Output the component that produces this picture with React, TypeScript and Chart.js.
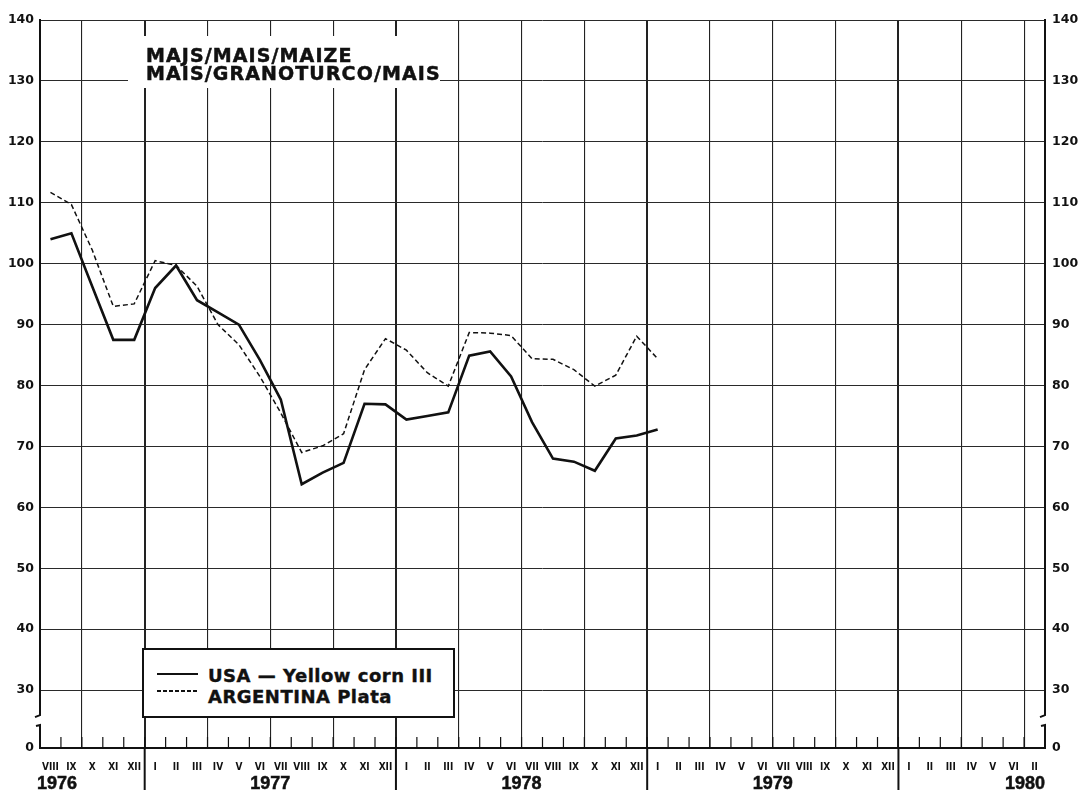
import React, { useEffect, useRef } from "react";
import { Chart, registerables } from "chart.js";

Chart.register(...registerables);

// ---- Data ----
const months1976 = ["VIII", "IX", "X", "XI", "XII"];
const monthsFullYear = ["I", "II", "III", "IV", "V", "VI", "VII", "VIII", "IX", "X", "XI", "XII"];
const months1980 = ["I", "II", "III", "IV", "V", "VI", "II"];
const years = ["1976", "1977", "1978", "1979", "1980"];
const yearMonthLabels = [months1976, monthsFullYear, monthsFullYear, monthsFullYear, months1980];
const monthLabels = yearMonthLabels.flat();

// USA — Yellow corn III (1976 VIII … 1979 I)
const usaYellowCorn = [
  104, 105, 96.2, 87.5, 87.5,
  96, 99.7, 94, 92, 90, 84.2, 77.7, 63.8, 65.7, 67.3, 77, 76.9,
  74.4, 75, 75.6, 84.9, 85.6, 81.5, 74, 68, 67.5, 66, 71.3, 71.8,
  72.8,
];
// ARGENTINA Plata
const argentinaPlata = [
  111.7, 109.7, 102.2, 93, 93.4,
  100.5, 99.7, 96.3, 90, 86.7, 81.5, 75.5, 69, 70.1, 72.1, 82.6, 87.7,
  85.8, 82.1, 79.9, 88.7, 88.6, 88.2, 84.4, 84.3, 82.6, 79.9, 81.7, 88.1,
  84.4,
];

const yTickValues = [30, 40, 50, 60, 70, 80, 90, 100, 110, 120, 130, 140];
const yZeroLabel = "0";
const yBrokenFloor = 20.5; // axis floor that stands for "0" below the break
const yMax = 140;

const titleLines = ["MAJS/MAIS/MAIZE", "MAIS/GRANOTURCO/MAIS"];
const seriesNames = ["USA \u2014 Yellow corn III", "ARGENTINA Plata"];

const INK = "#111";

const yearLengths = yearMonthLabels.map((m) => m.length);
const yearStarts: number[] = [];
yearLengths.reduce((acc, len) => {
  yearStarts.push(acc);
  return acc + len;
}, 0);

const decorPlugin = {
  id: "decor",
  afterDraw(chart: any) {
    const { ctx, chartArea } = chart;
    const x = chart.scales.x;
    const y = chart.scales.y;
    const n = x.ticks.length;
    const bound = (k: number) =>
      k <= 0 ? chartArea.left : k >= n ? chartArea.right : (x.getPixelForTick(k - 1) + x.getPixelForTick(k)) / 2;
    const y0 = chartArea.bottom;
    ctx.save();
    ctx.strokeStyle = INK;
    // monthly short ticks
    ctx.lineWidth = 1.2;
    for (let k = 1; k < n; k++) {
      const px = bound(k);
      ctx.beginPath();
      ctx.moveTo(px, y0);
      ctx.lineTo(px, y0 - 11);
      ctx.stroke();
    }
    // year separators below the axis
    ctx.lineWidth = 2;
    yearStarts.slice(1).forEach((k) => {
      const px = bound(k);
      ctx.beginPath();
      ctx.moveTo(px, y0);
      ctx.lineTo(px, y0 + 42);
      ctx.stroke();
    });
    // year labels
    ctx.font = "bold 18px 'Liberation Sans', Arial, sans-serif";
    ctx.fillStyle = INK;
    ctx.lineWidth = 0.5;
    ctx.textBaseline = "alphabetic";
    years.forEach((yr, i) => {
      const a = bound(yearStarts[i]);
      const b = bound(yearStarts[i] + yearLengths[i]);
      let tx: number;
      if (i === 0) {
        ctx.textAlign = "left";
        tx = a - 3;
      } else if (i === years.length - 1) {
        ctx.textAlign = "right";
        tx = b;
      } else {
        ctx.textAlign = "center";
        tx = (a + b) / 2;
      }
      ctx.fillText(yr, tx, 789);
      ctx.strokeText(yr, tx, 789);
    });
    // vertical axes with break marks
    const yTop = chartArea.top;
    const yMid = (y.getPixelForValue(30) + y.getPixelForValue(yBrokenFloor)) / 2;
    ctx.lineWidth = 2;
    [chartArea.left, chartArea.right].forEach((px) => {
      ctx.beginPath();
      ctx.moveTo(px, yTop - 1);
      ctx.lineTo(px, yMid - 4);
      ctx.lineTo(px - 5, yMid - 2);
      ctx.stroke();
      ctx.beginPath();
      ctx.moveTo(px, y0 + 1);
      ctx.lineTo(px, yMid + 6);
      ctx.lineTo(px - 4, yMid + 7);
      ctx.stroke();
    });
    ctx.restore();
  },
};

const yTickCallback = (v: any) => (Number(v) === yBrokenFloor ? yZeroLabel : String(v));
const setYTicks = (s: any) => {
  s.ticks = [yBrokenFloor, ...yTickValues].map((v) => ({ value: v }));
};

export default function App() {
  const ref = useRef<HTMLCanvasElement>(null);

  useEffect(() => {
    const chart = new Chart(ref.current as HTMLCanvasElement, {
      type: "line",
      data: {
        labels: monthLabels,
        datasets: [
          {
            label: seriesNames[0],
            data: usaYellowCorn,
            borderColor: INK,
            borderWidth: 2.6,
            pointRadius: 0,
            tension: 0,
            fill: false,
          },
          {
            label: seriesNames[1],
            data: argentinaPlata,
            borderColor: INK,
            borderWidth: 1.5,
            borderDash: [5, 3],
            pointRadius: 0,
            tension: 0,
            fill: false,
          },
        ],
      },
      options: {
        responsive: false,
        animation: false,
        devicePixelRatio: 1,
        layout: { padding: { top: 20, left: 0, right: 0, bottom: 0 } },
        plugins: { legend: { display: false }, title: { display: false }, tooltip: { enabled: false } },
        scales: {
          x: {
            type: "category",
            offset: true,
            grid: {
              offset: true,
              drawTicks: false,
              color: (ctx: any) => {
                const i = ctx.index;
                if (i === undefined || i === 0) return "transparent";
                return i % 3 === 2 ? "#222" : "transparent";
              },
              lineWidth: (ctx: any) => (yearStarts.includes(ctx.index) ? 2 : 1.1),
            },
            border: { display: true, color: INK, width: 2 },
            ticks: {
              autoSkip: false,
              maxRotation: 0,
              minRotation: 0,
              padding: 13,
              color: INK,
              font: { family: "'DejaVu Sans Condensed', 'DejaVu Sans', sans-serif", size: 10, weight: "bold" },
            },
            afterFit: (s: any) => {
              s.height = 46;
            },
          },
          y: {
            type: "linear",
            position: "left",
            min: yBrokenFloor,
            max: yMax,
            afterBuildTicks: setYTicks,
            grid: { color: "#2a2a2a", lineWidth: 1, drawTicks: false },
            border: { display: false },
            ticks: {
              padding: 6,
              color: INK,
              callback: yTickCallback,
              font: { family: "'DejaVu Sans', sans-serif", size: 12.5, weight: "bold" },
            },
            afterFit: (s: any) => {
              s.width = 40;
            },
          },
          y2: {
            type: "linear",
            position: "right",
            min: yBrokenFloor,
            max: yMax,
            afterBuildTicks: setYTicks,
            grid: { display: false, drawTicks: false },
            border: { display: false },
            ticks: {
              padding: 7,
              color: INK,
              callback: yTickCallback,
              font: { family: "'DejaVu Sans', sans-serif", size: 12.5, weight: "bold" },
            },
            afterFit: (s: any) => {
              s.width = 42;
            },
          },
        },
      },
      plugins: [decorPlugin],
    } as any);
    return () => chart.destroy();
  }, []);

  const titleFont: React.CSSProperties = {
    position: "absolute",
    left: 18,
    fontFamily: "'DejaVu Sans', sans-serif",
    fontWeight: "bold",
    fontSize: 19,
    lineHeight: "19px",
    letterSpacing: "1.1px",
    color: INK,
    whiteSpace: "nowrap",
    WebkitTextStroke: `0.5px ${INK}`,
  };
  const legendFont: React.CSSProperties = {
    position: "absolute",
    left: 64,
    fontFamily: "'DejaVu Sans', sans-serif",
    fontWeight: "bold",
    fontSize: 18,
    lineHeight: "18px",
    letterSpacing: "0.5px",
    color: INK,
    whiteSpace: "nowrap",
    WebkitTextStroke: `0.4px ${INK}`,
  };

  return (
    <div style={{ position: "absolute", left: 0, top: 0, width: 1087, height: 794, background: "#fff", overflow: "hidden" }}>
      <canvas ref={ref} width={1087} height={794} style={{ position: "absolute", left: 0, top: 0 }} />
      <div style={{ position: "absolute", left: 128, top: 36, width: 312, height: 52, background: "#fff" }}>
        <div style={{ ...titleFont, top: 10.4 }}>{titleLines[0]}</div>
        <div style={{ ...titleFont, top: 27.6 }}>{titleLines[1]}</div>
      </div>
      <div
        style={{
          position: "absolute",
          left: 142,
          top: 648,
          width: 313,
          height: 70,
          boxSizing: "border-box",
          border: `2px solid ${INK}`,
          background: "#fff",
        }}
      >
        <div style={{ position: "absolute", left: 13, top: 22.75, width: 41, height: 2.5, background: INK }} />
        <div
          style={{
            position: "absolute",
            left: 13,
            top: 40.25,
            width: 41,
            height: 1.5,
            background: `repeating-linear-gradient(to right, ${INK} 0 4px, transparent 4px 6px)`,
          }}
        />
        <div style={{ ...legendFont, top: 16.8 }}>{seriesNames[0]}</div>
        <div style={{ ...legendFont, top: 37.8 }}>{seriesNames[1]}</div>
      </div>
    </div>
  );
}
